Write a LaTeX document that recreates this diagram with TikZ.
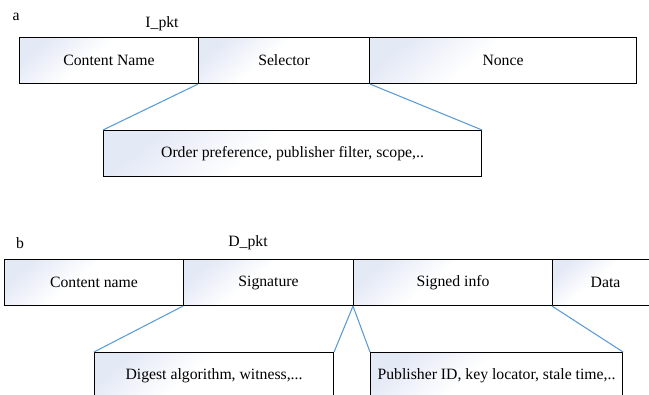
\documentclass[tikz,border=0pt]{standalone}
\usepackage{fontspec}
\setmainfont{Liberation Serif}
\definecolor{cellshade}{RGB}{228,233,246}
\definecolor{linkblue}{RGB}{91,155,213}
% soft tint that fades out towards the lower right of each field
\pgfdeclareverticalshading{cellfade}{100bp}{color(0bp)=(white); color(56bp)=(white); color(76bp)=(cellshade); color(100bp)=(cellshade)}
\tikzset{
  field/.style={draw=black, line width=0.8pt, shading=cellfade, shading angle=40,
    minimum height=46*0.75pt, inner sep=0pt, anchor=north west,
    font=\fontsize{11.8}{14}\selectfont},
  tag/.style={inner sep=0pt, font=\fontsize{11.8}{14}\selectfont},
  link/.style={draw=linkblue, line width=0.8pt},
}
\begin{document}
\begin{tikzpicture}[x=0.75pt, y=-0.75pt]
\useasboundingbox (0,0) rectangle (649,394);
\clip (0,0) rectangle (649,394);

% (a) interest packet
\node[tag] (la) at (16,17) {a};
\node[tag] (ipkt) at (162,24) {I\_pkt};
\node[field, minimum width=179*0.75pt] (cn)    at (19,37)  {Content Name};
\node[field, minimum width=171*0.75pt] (sel)   at (198,37) {Selector};
\node[field, minimum width=267*0.75pt] (nonce) at (369,37) {Nonce};
\node[field, minimum width=378*0.75pt] (ord)   at (103,130) {Order preference, publisher filter, scope,..};
\draw[link] (sel.south west) -- (ord.north west);
\draw[link] (sel.south east) -- (ord.north east);

% (b) data packet
\node[tag] (lb) at (20,243) {b};
\node[tag] (dpkt) at (248,243) {D\_pkt};
\node[field, minimum width=179*0.75pt] (dcn)   at (4,259)   {Content name};
\node[field, minimum width=170*0.75pt] (sig)   at (183,259) {Signature};
\node[field, minimum width=199*0.75pt] (sinfo) at (353,259) {Signed info};
\node[field, minimum width=106*0.75pt] (data)  at (552,259) {Data};
\node[field, minimum width=239*0.75pt] (dig)   at (94,352)  {Digest algorithm, witness,...};
\node[field, minimum width=252*0.75pt] (pub)   at (370,352) {Publisher ID, key locator, stale time,..};
\draw[link] (sig.south west) -- (dig.north west);
\draw[link] (sinfo.south west) -- (dig.north east);
\draw[link] (sinfo.south west) -- (pub.north west);
\draw[link] (data.south west) -- (pub.north east);
\end{tikzpicture}
\end{document}
